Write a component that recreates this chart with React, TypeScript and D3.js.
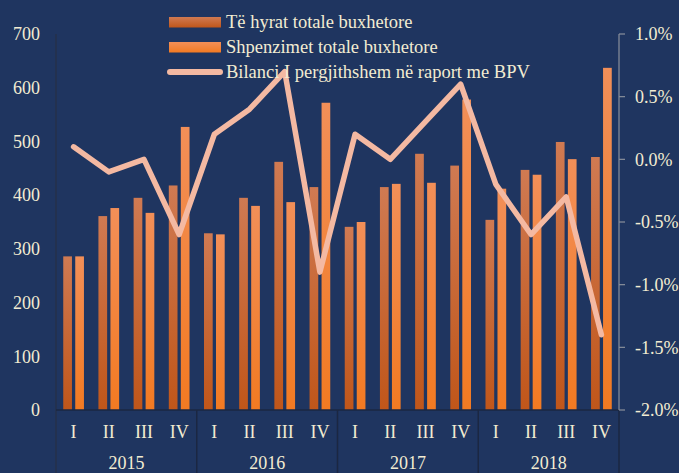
import React from "react";
import * as d3 from "d3";

const years = ["2015", "2016", "2017", "2018"];
const quarters = ["I", "II", "III", "IV"];
const hyrat = [286, 361, 395, 418, 329, 395, 462, 415, 341, 415, 477, 455, 354, 447, 499, 471];
const shpenzimet = [286, 376, 367, 527, 327, 380, 387, 572, 350, 421, 423, 578, 412, 438, 467, 637];
const bilanci = [0.1, -0.1, 0.0, -0.6, 0.2, 0.4, 0.7, -0.9, 0.2, 0.0, 0.3, 0.6, -0.2, -0.6, -0.3, -1.4];
const leftTicks = [0, 100, 200, 300, 400, 500, 600, 700];
const rightTicks = [-2.0, -1.5, -1.0, -0.5, 0.0, 0.5, 1.0];
const legendLabels = [
  "Të hyrat totale buxhetore",
  "Shpenzimet totale buxhetore",
  "Bilanci I pergjithshem në raport me BPV",
];

const W = 679, H = 473;
const L = 56, R = 619, T = 34, B = 410;
const BG = "#1f3560";
const TXT = "#f2ecd2";
const FONT = "'Liberation Serif', 'Times New Roman', serif";

export default function App() {
  const cats = d3.range(16).map(String);
  const x = d3.scaleBand<string>().domain(cats).range([L, R]).padding(0);
  const yL = d3.scaleLinear().domain([0, 700]).range([B, T]);
  const yR = d3.scaleLinear().domain([-2, 1]).range([B, T]);
  const bw = 8.7;
  const off = 6;
  const cx = (i: number) => (x(String(i)) as number) + x.bandwidth() / 2;
  const line = d3
    .line<number>()
    .x((_, i) => cx(i))
    .y((d) => yR(d));
  const yearW = x.bandwidth() * 4;

  return (
    <svg
      width={W}
      height={H}
      style={{ position: "absolute", left: 0, top: 0, background: BG }}
      fontFamily={FONT}
    >
      <defs>
        <linearGradient id="g1" x1="0" y1="0" x2="0" y2="1">
          <stop offset="0" stopColor="#d07a52" />
          <stop offset="1" stopColor="#c0561a" />
        </linearGradient>
        <linearGradient id="g2" x1="0" y1="0" x2="0" y2="1">
          <stop offset="0" stopColor="#f28f58" />
          <stop offset="1" stopColor="#f27a22" />
        </linearGradient>
      </defs>
      <rect x={0} y={0} width={W} height={H} fill={BG} />

      {/* bars */}
      {hyrat.map((v, i) => (
        <rect key={"a" + i} x={cx(i) - off - bw / 2} y={yL(v)} width={bw} height={yL(0) - yL(v)} fill="url(#g1)" />
      ))}
      {shpenzimet.map((v, i) => (
        <rect key={"b" + i} x={cx(i) + off - bw / 2} y={yL(v)} width={bw} height={yL(0) - yL(v)} fill="url(#g2)" />
      ))}

      {/* axes */}
      <line x1={L} x2={L} y1={T} y2={H} stroke="#26304a" strokeWidth={1.5} />
      <line x1={L} x2={R} y1={B} y2={B} stroke="#1b2742" strokeWidth={1.5} />
      {years.map((_, k) => (
        <line key={"sep" + k} x1={L + yearW * (k + 1)} x2={L + yearW * (k + 1)} y1={B} y2={H} stroke="#1b2742" strokeWidth={1.5} />
      ))}
      <line x1={R} x2={R} y1={T} y2={B} stroke="#8a909c" strokeWidth={1.2} />
      {rightTicks.map((t) => (
        <line key={"rt" + t} x1={R} x2={R + 6} y1={yR(t)} y2={yR(t)} stroke="#8a909c" strokeWidth={1.2} />
      ))}

      {/* line series */}
      <path d={line(bilanci) || ""} fill="none" stroke="#f4b9a2" strokeWidth={5.5} strokeLinejoin="round" strokeLinecap="round" />

      {/* tick labels */}
      {leftTicks.map((t) => (
        <text key={"lt" + t} x={40} y={yL(t)} dy="0.35em" textAnchor="end" fontSize={18} fill={TXT}>
          {t}
        </text>
      ))}
      {rightTicks.map((t) => (
        <text key={"rl" + t} x={635} y={yR(t)} dy="0.35em" textAnchor="start" fontSize={18} fill={TXT}>
          {d3.format(".1f")(t).replace("−", "-") + "%"}
        </text>
      ))}
      {cats.map((c, i) => (
        <text key={"q" + i} x={cx(i)} y={432} dy="0.35em" textAnchor="middle" fontSize={18} fill={TXT}>
          {quarters[i % 4]}
        </text>
      ))}
      {years.map((yv, k) => (
        <text key={"y" + k} x={L + yearW * (k + 0.5)} y={463} dy="0.35em" textAnchor="middle" fontSize={18} fill={TXT}>
          {yv}
        </text>
      ))}

      {/* legend */}
      <rect x={169} y={17} width={52} height={10.5} fill="url(#g1)" />
      <rect x={169} y={42} width={52} height={10.5} fill="url(#g2)" />
      <line x1={170} x2={220} y1={72} y2={72} stroke="#f4b9a2" strokeWidth={6} strokeLinecap="round" />
      {legendLabels.map((s, i) => (
        <text key={"lg" + i} x={226} y={22 + i * 25} dy="0.35em" fontSize={18.5} fill={TXT}>
          {s}
        </text>
      ))}
    </svg>
  );
}
